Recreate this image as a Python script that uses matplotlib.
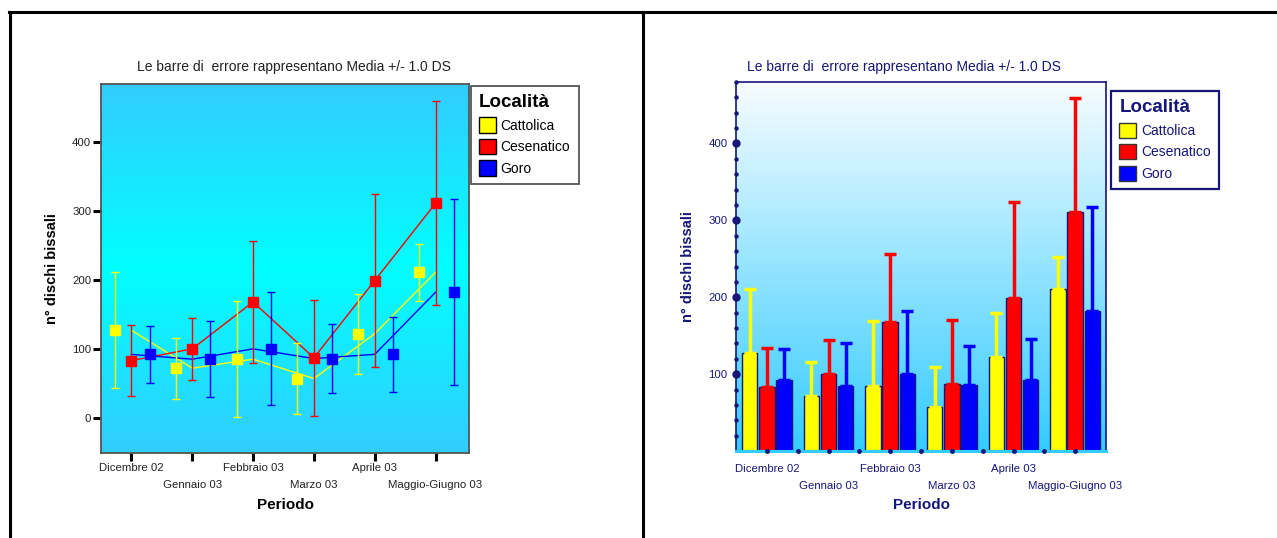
import numpy as np
import matplotlib
matplotlib.use("Agg")
import matplotlib.pyplot as plt
from matplotlib.patches import Patch
from matplotlib.lines import Line2D

plt.rcParams['font.family'] = ['Liberation Sans', 'DejaVu Sans']

# dati
periodi = ["Dicembre 02", "Gennaio 03", "Febbraio 03", "Marzo 03", "Aprile 03", "Maggio-Giugno 03"]
localita = ["Cattolica", "Cesenatico", "Goro"]
media_cattolica = [127, 72, 85, 57, 122, 211]
media_cesenatico = [83, 100, 168, 87, 199, 311]
media_goro = [92, 85, 100, 86, 92, 182]
ds_cattolica = [84, 44, 84, 52, 58, 41]
ds_cesenatico = [51, 45, 88, 84, 125, 148]
ds_goro = [41, 55, 82, 50, 54, 135]

colori = ["#ffff00", "#ff0000", "#0000ff"]
navy = "#16167a"
titolo = "Le barre di  errore rappresentano Media +/- 1.0 DS"

medie = [media_cattolica, media_cesenatico, media_goro]
dss = [ds_cattolica, ds_cesenatico, ds_goro]
x = np.arange(len(periodi))

W, H = 1277, 538
fig = plt.figure(figsize=(W / 100, H / 100), dpi=100)

# cornice
fig.add_artist(Line2D([9 / W, 1], [1 - 12 / H] * 2, color="black", lw=2.2))
fig.add_artist(Line2D([9.5 / W] * 2, [0, 1 - 12 / H], color="black", lw=2.2))
fig.add_artist(Line2D([643 / W] * 2, [0, 1 - 12 / H], color="black", lw=2.2))


def sfondo(ax, colors):
    cmap = matplotlib.colors.LinearSegmentedColormap.from_list("g", colors)
    grad = np.linspace(0, 1, 256).reshape(-1, 1)
    ax.imshow(grad, cmap=cmap, aspect="auto", extent=[0, 1, 0, 1],
              transform=ax.transAxes, zorder=0)


def etichette_x(ax, color, tick_len, tick_w, pad):
    ax.set_xticks(x[::2])
    ax.set_xticklabels(periodi[::2])
    ax.set_xticks(x[1::2], minor=True)
    ax.set_xticklabels(periodi[1::2], minor=True)
    ax.tick_params(axis="x", which="major", length=tick_len, width=tick_w,
                   colors=color, labelsize=8.2, pad=pad)
    ax.tick_params(axis="x", which="minor", length=tick_len, width=tick_w,
                   colors=color, labelsize=8.2, pad=pad + 12.5)


def legenda(ax, anchor, edge, txtcol, patch_edge):
    h = [Patch(facecolor=c, edgecolor=patch_edge, lw=1) for c in colori]
    leg = ax.legend(h, localita, title="Località", loc="upper left",
                    bbox_to_anchor=anchor, borderaxespad=0, fancybox=False,
                    framealpha=1, edgecolor=edge, fontsize=10, handlelength=1.2,
                    handleheight=1.3, handletextpad=0.35, labelspacing=0.45,
                    borderpad=0.6, title_fontproperties={"size": 13.5, "weight": "bold"})
    leg._legend_box.align = "left"
    leg.get_frame().set_linewidth(1.3)
    leg.get_title().set_color(txtcol)
    for t in leg.get_texts():
        t.set_color(txtcol)
    return leg


# ---------------- grafico a linee (sinistra)
ax1 = fig.add_axes([101 / W, 1 - 453 / H, 368 / W, 369 / H])
sfondo(ax1, [(0.2, 0.8, 1.0), (0.0, 1.0, 1.0), (0.2, 0.8, 1.0)])
offs1 = [-0.27, 0.0, 0.3]
for m, s, c, o in zip(medie, dss, colori, offs1):
    ax1.plot(x, m, color=c, lw=1, zorder=2)
    ax1.errorbar(x + o, m, yerr=s, fmt="s", color=c, ms=6.5, mec=c,
                 elinewidth=1, capsize=3, capthick=1, zorder=3)
ax1.set_xlim(-0.5, 5.55)
ax1.set_ylim(-51, 484)
ax1.set_yticks([0, 100, 200, 300, 400])
ax1.tick_params(axis="y", length=6, width=2.2, colors="black", labelsize=8.2, pad=1)
for t in ax1.get_yticklabels():
    t.set_color("#222222")
etichette_x(ax1, "black", 6, 2.2, 1)
for t in ax1.get_xticklabels(which="both"):
    t.set_color("#222222")
for sp in ax1.spines.values():
    sp.set_color("#555555")
    sp.set_linewidth(1.3)
ax1.set_ylabel("n° dischi bissali", fontsize=10.5, fontweight="bold")
ax1.yaxis.set_label_coords(-0.113, 0.5)
ax1.set_xlabel("Periodo", fontsize=11, fontweight="bold")
ax1.xaxis.set_label_coords(0.5, -0.122)
fig.text(294 / W, 1 - 67 / H, titolo, ha="center", va="center", fontsize=10, color="#222222")
legenda(ax1, (1.005, 0.995), "#555555", "black", "black")

# ---------------- grafico a barre (destra)
ax2 = fig.add_axes([736 / W, 1 - 451 / H, 370 / W, 369 / H])
sfondo(ax2, [(0.97, 0.99, 1.0), (0.2, 0.8, 1.0)])
offs2 = [-0.28, 0.0, 0.28]
for m, s, c, o in zip(medie, dss, colori, offs2):
    ax2.bar(x + o, m, width=0.25, color=c, edgecolor=navy, lw=1, zorder=2)
    ax2.errorbar(x + o, m, yerr=[np.zeros(len(m)), s], fmt="none", ecolor=c,
                 elinewidth=2.5, capsize=4, capthick=2.5, zorder=3)
ax2.set_xlim(-0.5, 5.5)
ax2.set_ylim(0, 480)
ax2.set_yticks([100, 200, 300, 400])
ax2.tick_params(axis="y", length=0, colors=navy, labelsize=8.2, pad=6)
etichette_x(ax2, navy, 0, 0, 9)
# punti sugli assi
ymin_dots = np.arange(20, 481, 20)
ax2.plot(np.full(len(ymin_dots), -0.5), ymin_dots, "o", color=navy, ms=2.2,
         clip_on=False, zorder=5)
ax2.plot(np.full(4, -0.5), [100, 200, 300, 400], "o", color=navy, ms=5,
         clip_on=False, zorder=5)
ax2.plot(x, np.zeros(len(x)), "o", color=navy, ms=2.5, clip_on=False, zorder=5)
ax2.plot(x[:-1] + 0.5, np.zeros(len(x) - 1), "o", color=navy, ms=2.5,
         clip_on=False, zorder=5)
for k in ["left", "top", "right"]:
    ax2.spines[k].set_color(navy)
    ax2.spines[k].set_linewidth(1.2)
ax2.spines["bottom"].set_color("#33ccff")
ax2.spines["bottom"].set_linewidth(2.2)
ax2.set_ylabel("n° dischi bissali", fontsize=10.5, fontweight="bold", color=navy)
ax2.yaxis.set_label_coords(-0.111, 0.5)
ax2.set_xlabel("Periodo", fontsize=11, fontweight="bold", color=navy)
ax2.xaxis.set_label_coords(0.5, -0.127)
fig.text(904 / W, 1 - 67 / H, titolo, ha="center", va="center", fontsize=10, color=navy)
leg2 = legenda(ax2, (1.0135, 0.9756), navy, navy, "#333333")
leg2.get_frame().set_linewidth(1.6)

fig.savefig("out.png", dpi=100)
